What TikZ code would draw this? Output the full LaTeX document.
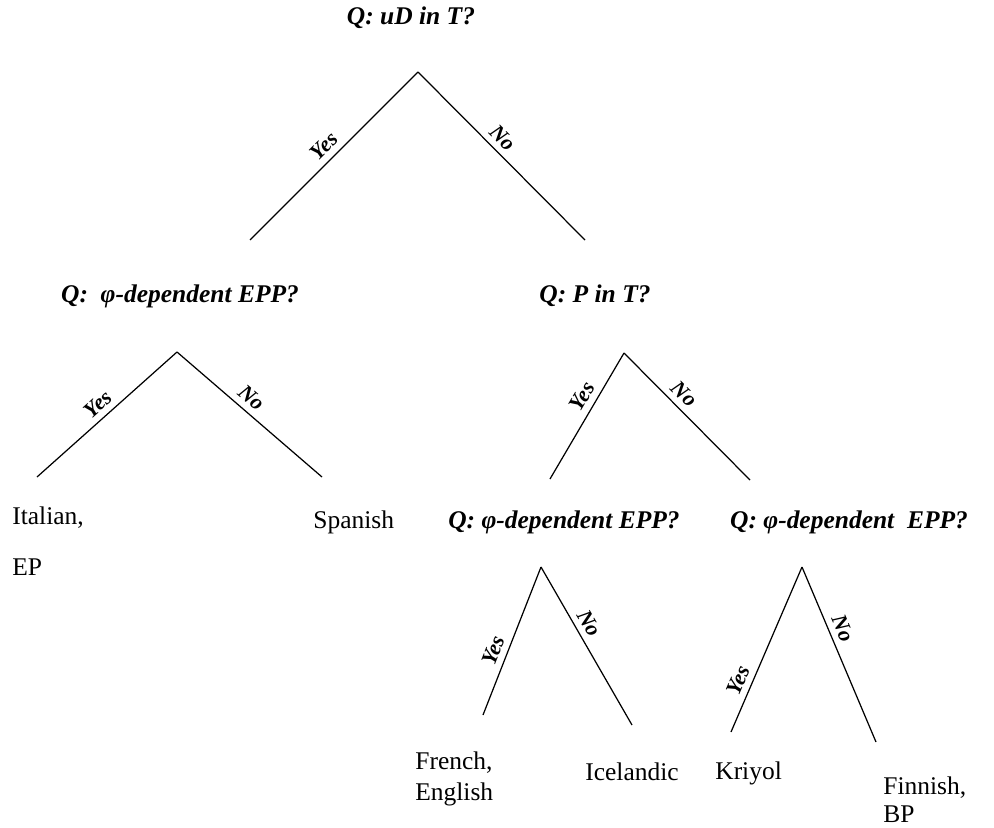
\documentclass[tikz,border=0pt]{standalone}
\usepackage{fontspec}
\setmainfont{Liberation Serif}

\begin{document}
\begin{tikzpicture}
    [
    x = 0.02cm, y = -0.02cm,
    every node/.style = {font=\fontsize{14.5}{18}\selectfont, inner sep=0pt},
    question/.style   = {font=\fontsize{14.5}{18}\selectfont\bfseries\itshape},
    lang/.style       = {anchor=west, align=left},
    answer/.style     = {font=\fontsize{12.5}{15}\selectfont\bfseries\itshape, sloped, above=3.5pt},
    branch/.style     = {line width=0.7pt}
    ]
    \useasboundingbox (0,0) rectangle (994,828);

    % questions
    \node [question] (q1) at (411,18)  {Q: uD in T?};
    \node [question] (q2) at (180,296) {Q:\ \ φ-dependent EPP?};
    \node [question] (q3) at (595,296) {Q: P in T?};
    \node [question] (q4) at (564,522) {Q: φ-dependent EPP?};
    \node [question] (q5) at (849,522) {Q: φ-dependent\ \ EPP?};

    % branch points
    \coordinate (a1) at (418,72);  \coordinate (y1) at (250,240); \coordinate (n1) at (585,240);
    \coordinate (a2) at (177,352); \coordinate (y2) at (37,477);  \coordinate (n2) at (322,477);
    \coordinate (a3) at (624,353); \coordinate (y3) at (550,479); \coordinate (n3) at (750,480);
    \coordinate (a4) at (541,567); \coordinate (y4) at (483,715); \coordinate (n4) at (632,725);
    \coordinate (a5) at (802,567); \coordinate (y5) at (731,732); \coordinate (n5) at (876,742);

    % languages
    \node [lang] (italian)   at (12,541)  {Italian,\\[11pt]EP};
    \node [lang] (spanish)   at (313,522) {Spanish};
    \node [lang] (french)    at (415,779) {French,\\English};
    \node [lang] (icelandic) at (585,772) {Icelandic};
    \node [lang] (kriyol)    at (715,773) {Kriyol};
    \node [lang] (finnish)   at (883,800) {Finnish,\\[-2pt]BP};

    % branches
    \draw [branch] (a1) -- node [answer, pos=0.5]  {Yes} (y1);
    \draw [branch] (a1) -- node [answer, pos=0.45] {No}  (n1);
    \draw [branch] (a2) -- node [answer, pos=0.5]  {Yes} (y2);
    \draw [branch] (a2) -- node [answer, pos=0.45] {No}  (n2);
    \draw [branch] (a3) -- node [answer, pos=0.4]  {Yes} (y3);
    \draw [branch] (a3) -- node [answer, pos=0.4]  {No}  (n3);
    \draw [branch] (a4) -- node [answer, pos=0.6]  {Yes} (y4);
    \draw [branch] (a4) -- node [answer, pos=0.4]  {No}  (n4);
    \draw [branch] (a5) -- node [answer, pos=0.72] {Yes} (y5);
    \draw [branch] (a5) -- node [answer, pos=0.38] {No}  (n5);
\end{tikzpicture}
\end{document}
